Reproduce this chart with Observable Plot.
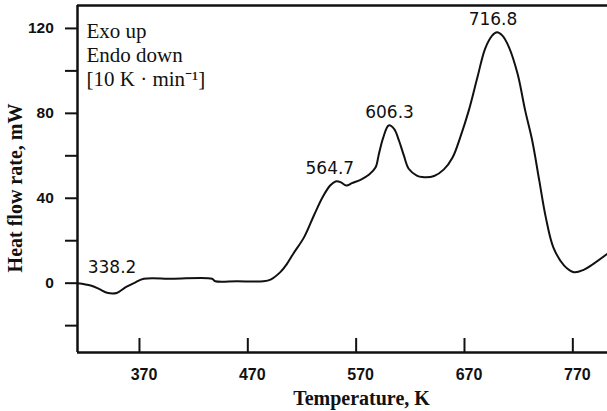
<!DOCTYPE html>
<html><head><meta charset="utf-8">
<script src="https://cdn.jsdelivr.net/npm/d3@7"></script>
<script src="https://cdn.jsdelivr.net/npm/@observablehq/plot@0.6"></script>
<style>body{margin:0;background:#fff}</style>
</head><body><div id="chart"></div>
<script>
const temps = [313, 325, 333, 340, 349, 357, 366, 374, 400, 437, 440, 460, 484.5, 491, 500, 506, 512, 522, 531, 539, 546, 551, 555.5, 561, 566, 574, 582, 588, 591, 595, 600, 605, 609.5, 614, 618.5, 626, 631, 642, 651, 659, 666, 674, 682, 689, 695.5, 700, 705, 711, 719, 726, 732.5, 739, 745, 752, 762, 771, 780, 789, 802];
const heatFlow = [0, -1.1, -2.8, -4.5, -4.6, -2.0, 0.3, 2.1, 2.1, 2.1, 0.9, 0.9, 0.9, 1.7, 5.2, 9, 13.9, 21.7, 31.9, 40.5, 46.0, 47.9, 47.6, 46.0, 47.1, 48.7, 51.2, 54.6, 60.9, 68.6, 74.3, 72.7, 67.2, 60.2, 53.9, 50.7, 50.0, 50.5, 53.6, 59.2, 68.6, 81.4, 97.1, 110.4, 116.6, 118.2, 116.6, 111.2, 98.6, 81.4, 67.2, 48.4, 31.1, 16.9, 8.3, 5.2, 6.3, 9.1, 13.9];
const peakLabels = ["338.2", "564.7", "606.3", "716.8"];
const peakLabelT = [344.7, 545.7, 600.8, 696.3];
const peakLabelV = [7.4, 54, 80.4, 124];
const xTicks = [370, 470, 570, 670, 770];
const yTicks = [-20, 0, 20, 40, 60, 80, 100, 120];
const yTickLabels = [0, 40, 80, 120];
const xDomain = [312.8, 802];
const yDomain = [-32.65, 130.8];
const cornerNote = "Exo up\nEndo down\n[10 K · min⁻¹]";
const xTitle = "Temperature, K";
const yTitle = "Heat flow rate, mW";

const data = temps.map((t, i) => ({t, v: heatFlow[i]}));
const peaks = peakLabels.map((s, i) => ({t: peakLabelT[i], v: peakLabelV[i], s}));
const serif = "'Liberation Serif', 'Times New Roman', serif";
const sans = "'Liberation Sans', Arial, sans-serif";

const plot = Plot.plot({
  width: 607, height: 411,
  marginLeft: 77, marginRight: 0, marginTop: 5, marginBottom: 59,
  x: {domain: xDomain},
  y: {domain: yDomain},
  style: {background: "#fff", color: "#111", fontFamily: sans},
  marks: [
    Plot.axisX({ticks: xTicks, tickSize: -14, tickFormat: () => "", label: null, strokeWidth: 2}),
    Plot.axisX({ticks: xTicks, tickSize: 0, tickPadding: 16.6, dx: 4.5, label: null, fontSize: 16, fontWeight: "bold", fontFamily: sans}),
    Plot.axisY({ticks: yTicks, tickSize: 12, tickPadding: 11.7, tickFormat: d => yTickLabels.includes(d) ? String(d) : "", label: null, fontSize: 15.5, fontWeight: "bold", strokeWidth: 2, fontFamily: sans}),
    Plot.ruleX([xDomain[0]], {stroke: "#111", strokeWidth: 2.5}),
    Plot.ruleY([yDomain[0]], {stroke: "#111", strokeWidth: 2.5}),
    Plot.ruleY([yDomain[1]], {stroke: "#111", strokeWidth: 2.5}),
    Plot.line(data, {x: "t", y: "v", stroke: "#111", strokeWidth: 2, curve: "catmull-rom"}),
    Plot.text(peaks, {x: "t", y: "v", text: "s", fontSize: 17, fontFamily: "'DejaVu Sans', sans-serif", fill: "#111"}),
    Plot.text([cornerNote], {text: d => d, frameAnchor: "top-left", textAnchor: "start", lineAnchor: "top", dx: 9, dy: 15.1, fontSize: 21, lineHeight: 1.143, fontFamily: serif, fill: "#111"}),
    Plot.text([yTitle], {text: d => d, frameAnchor: "left", rotate: -90, textAnchor: "middle", lineAnchor: "middle", dx: -61.5, dy: 9, fontSize: 20, fontWeight: "bold", fontFamily: serif, fill: "#111"}),
    Plot.text([xTitle], {text: d => d, frameAnchor: "bottom", textAnchor: "middle", lineAnchor: "middle", dx: 19, dy: 46.5, fontSize: 20, fontWeight: "bold", fontFamily: serif, fill: "#111"})
  ]
});
document.getElementById("chart").appendChild(plot);
</script>
</body></html>
